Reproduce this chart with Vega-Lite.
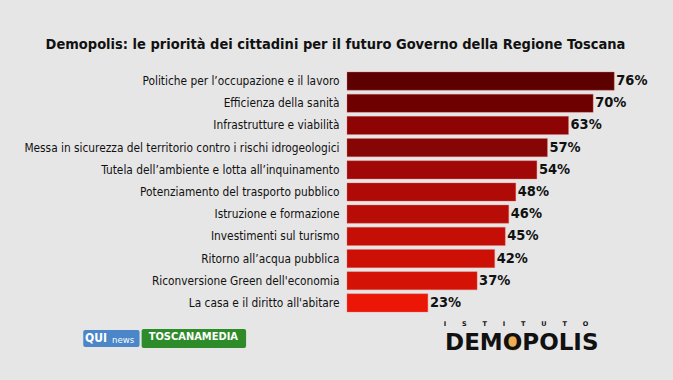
{
  "$schema": "https://vega.github.io/schema/vega-lite/v6.json",
  "width": 320,
  "height": 244,
  "padding": {"left": 23, "top": 36, "right": 6, "bottom": 30},
  "background": "#e6e6e6",
  "config": {"view": {"stroke": null}},
  "title": {
    "text": "Demopolis: le priorità dei cittadini per il futuro Governo della Regione Toscana",
    "font": "DejaVu Sans Condensed, sans-serif",
    "fontWeight": "bold",
    "fontSize": 14.5,
    "color": "#111111",
    "anchor": "middle",
    "frame": "bounds",
    "offset": 18,
    "dx": -10
  },
  "resolve": {"scale": {"y": "independent", "color": "independent"}},
  "layer": [
    {
      "data": {"values": [
        {"voce": "Politiche per l’occupazione e il lavoro", "valore": 0.76},
        {"voce": "Efficienza della sanità", "valore": 0.70},
        {"voce": "Infrastrutture e viabilità", "valore": 0.63},
        {"voce": "Messa in sicurezza del territorio contro i rischi idrogeologici", "valore": 0.57},
        {"voce": "Tutela dell’ambiente e lotta all’inquinamento", "valore": 0.54},
        {"voce": "Potenziamento del trasporto pubblico", "valore": 0.48},
        {"voce": "Istruzione e formazione", "valore": 0.46},
        {"voce": "Investimenti sul turismo", "valore": 0.45},
        {"voce": "Ritorno all’acqua pubblica", "valore": 0.42},
        {"voce": "Riconversione Green dell'economia", "valore": 0.37},
        {"voce": "La casa e il diritto all'abitare", "valore": 0.23}
      ]},
      "encoding": {
        "y": {
          "field": "voce", "type": "nominal", "sort": null,
          "scale": {"paddingInner": 0.18, "paddingOuter": 0.09},
          "axis": {"title": null, "ticks": false, "domain": false, "labelFont": "DejaVu Sans Condensed, sans-serif", "labelFontSize": 11.8, "labelColor": "#111111", "labelPadding": 8, "labelLimit": 400}
        },
        "x": {"field": "valore", "type": "quantitative", "scale": {"domain": [0, 0.91], "nice": false}, "axis": null}
      },
      "layer": [
        {
          "mark": {"type": "bar", "stroke": "#e07070", "strokeWidth": 0.6, "strokeOpacity": 0.6},
          "encoding": {
            "color": {
              "field": "voce", "type": "nominal", "sort": null, "legend": null,
              "scale": {"range": ["#5c0000", "#6e0000", "#8e0404", "#860606", "#a00808", "#b00a06", "#b80c06", "#c40e06", "#cc1006", "#d41206", "#ec1606"]}
            }
          }
        },
        {
          "mark": {"type": "text", "align": "left", "dx": 2, "font": "DejaVu Sans Condensed, sans-serif", "fontWeight": "bold", "fontSize": 14.5, "color": "#111111"},
          "encoding": {"text": {"field": "valore", "type": "quantitative", "format": ".0%"}}
        }
      ]
    },
    {
      "data": {"values": [{"logo": "QUI"}]},
      "layer": [
        {
          "mark": {"type": "rect", "color": "#4a86c8", "cornerRadius": 2},
          "encoding": {
            "x": {"datum": -0.75, "type": "quantitative"},
            "x2": {"datum": -0.59},
            "y": {"datum": -0.0656, "type": "quantitative", "scale": {"domain": [0, 1]}, "axis": null},
            "y2": {"datum": -0.135}
          }
        },
        {
          "mark": {"type": "rect", "color": "#2e8b2a", "cornerRadius": 2},
          "encoding": {
            "x": {"datum": -0.584, "type": "quantitative"},
            "x2": {"datum": -0.287},
            "y": {"datum": -0.0615, "type": "quantitative", "scale": {"domain": [0, 1]}, "axis": null},
            "y2": {"datum": -0.139}
          }
        },
        {
          "mark": {"type": "text", "align": "left", "baseline": "middle", "font": "DejaVu Sans Condensed, sans-serif", "fontWeight": "bold", "fontSize": 12, "color": "#ffffff", "text": "QUI"},
          "encoding": {
            "x": {"datum": -0.745, "type": "quantitative"},
            "y": {"datum": -0.100, "type": "quantitative", "scale": {"domain": [0, 1]}, "axis": null}
          }
        },
        {
          "mark": {"type": "text", "align": "left", "baseline": "middle", "font": "DejaVu Sans Condensed, sans-serif", "fontSize": 9.5, "color": "#ffffff", "text": "news"},
          "encoding": {
            "x": {"datum": -0.668, "type": "quantitative"},
            "y": {"datum": -0.106, "type": "quantitative", "scale": {"domain": [0, 1]}, "axis": null}
          }
        },
        {
          "mark": {"type": "text", "align": "center", "baseline": "middle", "font": "DejaVu Sans Condensed, sans-serif", "fontWeight": "bold", "fontSize": 11, "color": "#ffffff", "text": "TOSCANAMEDIA"},
          "encoding": {
            "x": {"datum": -0.437, "type": "quantitative"},
            "y": {"datum": -0.096, "type": "quantitative", "scale": {"domain": [0, 1]}, "axis": null}
          }
        },
        {
          "mark": {"type": "text", "align": "left", "baseline": "middle", "font": "DejaVu Sans", "fontWeight": "bold", "fontSize": 6.5, "color": "#111111", "text": "I\u00a0\u00a0\u00a0\u00a0\u00a0\u00a0\u00a0S\u00a0\u00a0\u00a0\u00a0\u00a0\u00a0\u00a0T\u00a0\u00a0\u00a0\u00a0\u00a0\u00a0\u00a0I\u00a0\u00a0\u00a0\u00a0\u00a0\u00a0\u00a0T\u00a0\u00a0\u00a0\u00a0\u00a0\u00a0\u00a0U\u00a0\u00a0\u00a0\u00a0\u00a0\u00a0\u00a0T\u00a0\u00a0\u00a0\u00a0\u00a0\u00a0\u00a0O"},
          "encoding": {
            "x": {"datum": 0.275, "type": "quantitative"},
            "y": {"datum": -0.042, "type": "quantitative", "scale": {"domain": [0, 1]}, "axis": null}
          }
        },
        {
          "mark": {"type": "circle", "color": "#f0a030", "size": 230, "opacity": 0.8},
          "encoding": {
            "x": {"datum": 0.474, "type": "quantitative"},
            "y": {"datum": -0.118, "type": "quantitative", "scale": {"domain": [0, 1]}, "axis": null}
          }
        },
        {
          "mark": {"type": "text", "align": "center", "baseline": "middle", "font": "DejaVu Sans", "fontWeight": "bold", "fontSize": 23, "color": "#111111", "text": "DEMOPOLIS"},
          "encoding": {
            "x": {"datum": 0.497, "type": "quantitative"},
            "y": {"datum": -0.118, "type": "quantitative", "scale": {"domain": [0, 1]}, "axis": null}
          }
        }
      ]
    }
  ]
}
